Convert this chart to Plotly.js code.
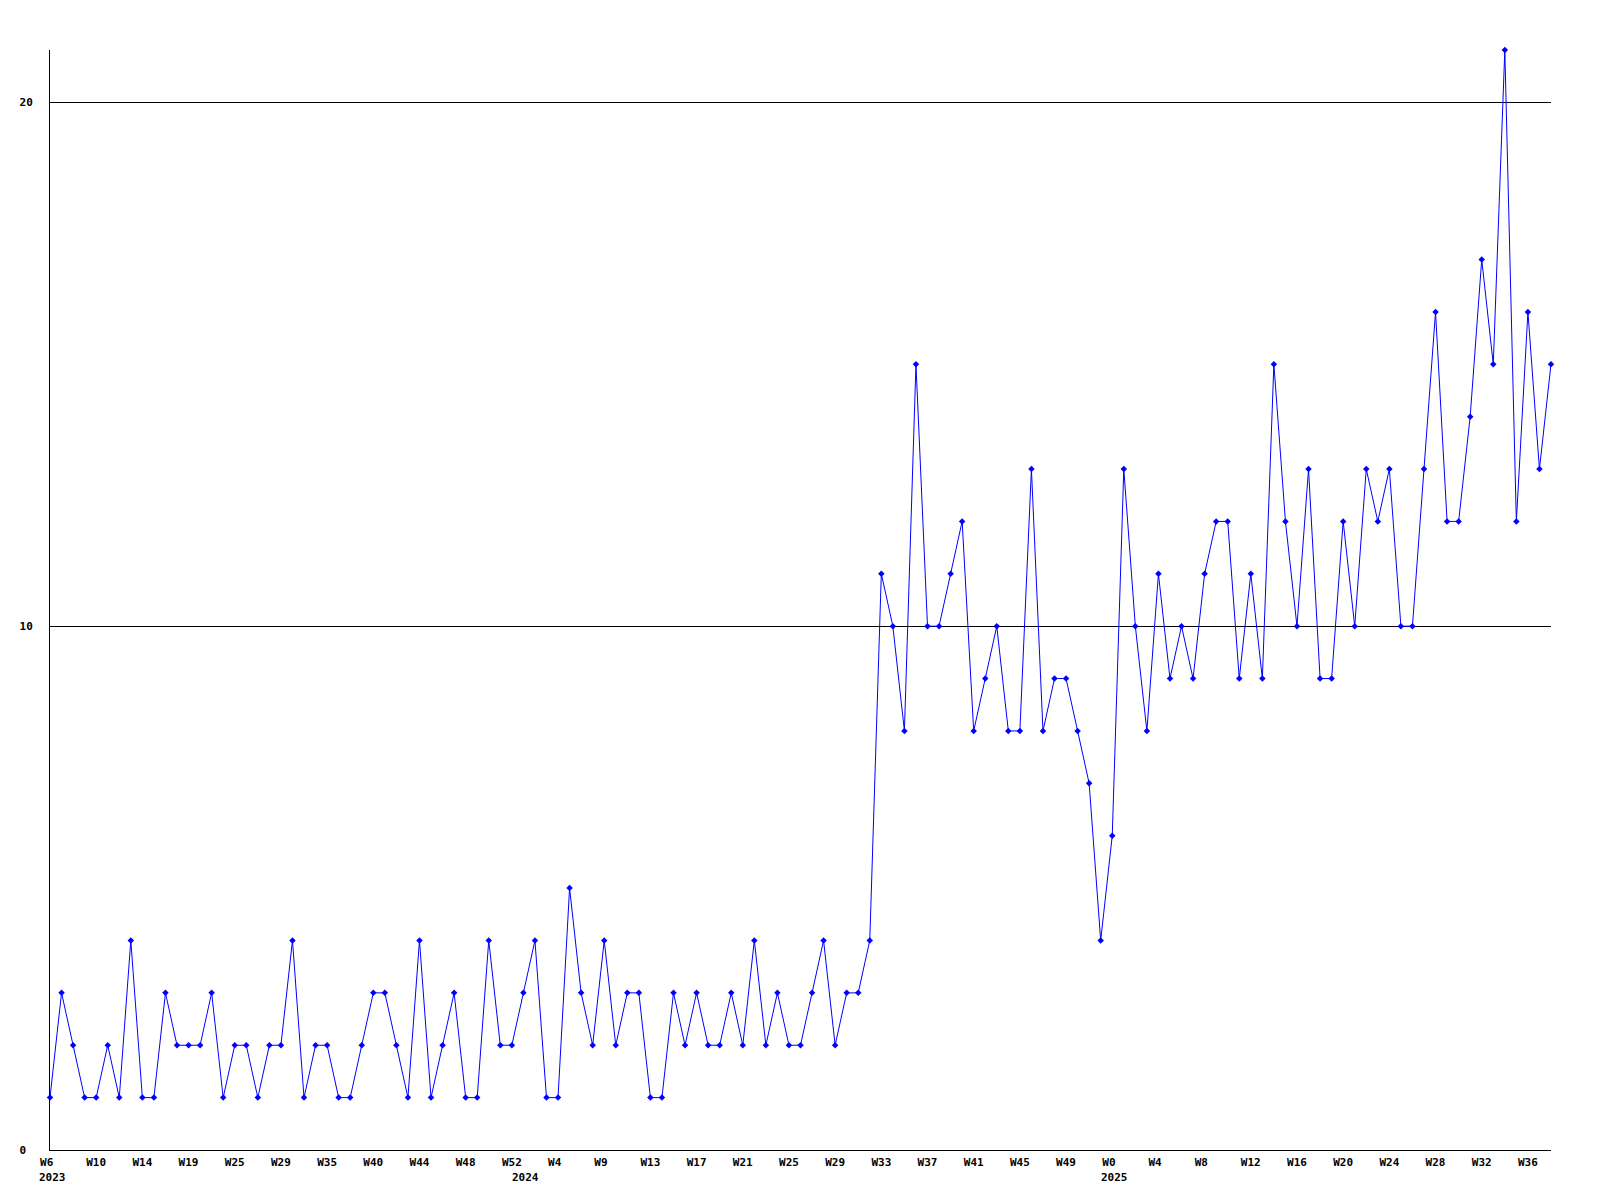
<!DOCTYPE html>
<html>
<head>
<meta charset="utf-8">
<script src="https://cdn.plot.ly/plotly-3.0.1.min.js"></script>
<style>html,body{margin:0;padding:0;background:#fff;}#chart{width:1600px;height:1200px;}</style>
</head>
<body>
<div id="chart"></div>
<script>
// Weekly counts, one per data point (in order)
const counts = [
  1,3,2,1,1,2,1,4,1,1,3,2,2,2,3,1,2,2,1,2,2,4,1,2,2,1,1,2,3,3,2,1,4,1,
  2,3,1,1,4,2,2,3,4,1,1,5,3,2,4,2,3,3,1,1,3,2,3,2,2,3,2,4,2,3,2,2,3,4,2,3,3,4,
  11,10,8,15,10,10,11,12,8,9,10,8,8,13,8,9,9,8,7,4,6,13,10,8,11,9,10,9,11,12,12,9,11,9,
  15,12,10,13,9,9,12,10,13,12,13,10,10,13,16,12,12,14,17,15,21,12,16,13,15
];
// Week labels shown on every 4th point
const weekTicks = ['W6','W10','W14','W19','W25','W29','W35','W40','W44','W48','W52',
  'W4','W9','W13','W17','W21','W25','W29','W33','W37','W41','W45','W49',
  'W0','W4','W8','W12','W16','W20','W24','W28','W32','W36'];
const tickStep = 4;
// Year labels and the data point (first week of the year) they sit under
const years = ['2023','2024','2025'];
const yearPoint = [0, 41, 92];
// Y axis ticks
const yTicks = [0, 10, 20];
const yTickText = ['0', '10', '20'];

const xs = counts.map((_, i) => i);
const tickvals = weekTicks.map((_, i) => i * tickStep);
// labels are laid out in a fixed 3-character field
const pad = (s, n) => s + '\u00a0'.repeat(Math.max(0, n - s.length));
const ticktext = weekTicks.map(w => pad(w, 3));
const yticktext = yTickText.map(t => pad(t, 2));

const font = {family: '"DejaVu Sans Mono", "Liberation Mono", monospace', size: 11, color: '#000', weight: 'bold'};

const annotations = years.map((y, k) => ({
  x: yearPoint[k], xref: 'x', y: 0, yref: 'paper', yshift: -27, xshift: 2,
  text: y, showarrow: false, xanchor: 'center', yanchor: 'middle', font: font
}));

Plotly.newPlot('chart', [{
  x: xs, y: counts, type: 'scatter', mode: 'lines+markers',
  line: {color: '#0000ff', width: 1},
  marker: {color: '#0000ff', size: 5, symbol: 'diamond'},
  cliponaxis: false, hoverinfo: 'skip'
}], {
  width: 1600, height: 1200,
  margin: {l: 50, r: 49, t: 50, b: 50},
  paper_bgcolor: '#fff', plot_bgcolor: '#fff',
  showlegend: false,
  font: font,
  annotations: annotations,
  xaxis: {
    range: [0, counts.length - 1], tickmode: 'array', tickvals: tickvals, ticktext: ticktext,
    showgrid: false, zeroline: false, showline: true, linecolor: '#000', linewidth: 1,
    ticks: '', tickfont: font, tickangle: 0, ticklabelstandoff: 2
  },
  yaxis: {
    range: [0, 21], tickmode: 'array', tickvals: yTicks, ticktext: yticktext,
    showgrid: true, gridcolor: '#000', gridwidth: 1, zeroline: false,
    showline: true, linecolor: '#000', linewidth: 1,
    ticks: '', tickfont: font, ticklabelstandoff: 14
  }
}, {staticPlot: true, displayModeBar: false});
</script>
</body>
</html>
